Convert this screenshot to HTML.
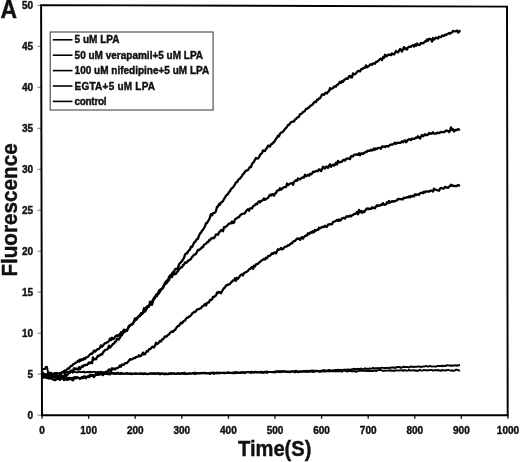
<!DOCTYPE html><html><head><meta charset="utf-8"><style>html,body{margin:0;padding:0;background:#fff;}svg{display:block;}text{font-family:"Liberation Sans",sans-serif;font-weight:bold;fill:#111;stroke:#111;stroke-width:0.4px;}svg{will-change:transform;}</style></head><body>
<svg width="520" height="462" viewBox="0 0 520 462">
<rect width="520" height="462" fill="#fff"/>
<text x="0" y="18.2" font-size="25.5" transform="translate(0.5 0) scale(0.9 1)" style="stroke-width:0.4px">A</text>
<line x1="37.6" y1="415.10" x2="41.5" y2="415.10" stroke="#777" stroke-width="1"/>
<text x="33.0" y="418.50" font-size="10" text-anchor="end">0</text>
<line x1="37.6" y1="374.13" x2="41.5" y2="374.13" stroke="#777" stroke-width="1"/>
<text x="33.0" y="377.53" font-size="10" text-anchor="end">5</text>
<line x1="37.6" y1="333.16" x2="41.5" y2="333.16" stroke="#777" stroke-width="1"/>
<text x="33.0" y="336.56" font-size="10" text-anchor="end">10</text>
<line x1="37.6" y1="292.19" x2="41.5" y2="292.19" stroke="#777" stroke-width="1"/>
<text x="33.0" y="295.59" font-size="10" text-anchor="end">15</text>
<line x1="37.6" y1="251.22" x2="41.5" y2="251.22" stroke="#777" stroke-width="1"/>
<text x="33.0" y="254.62" font-size="10" text-anchor="end">20</text>
<line x1="37.6" y1="210.25" x2="41.5" y2="210.25" stroke="#777" stroke-width="1"/>
<text x="33.0" y="213.65" font-size="10" text-anchor="end">25</text>
<line x1="37.6" y1="169.28" x2="41.5" y2="169.28" stroke="#777" stroke-width="1"/>
<text x="33.0" y="172.68" font-size="10" text-anchor="end">30</text>
<line x1="37.6" y1="128.31" x2="41.5" y2="128.31" stroke="#777" stroke-width="1"/>
<text x="33.0" y="131.71" font-size="10" text-anchor="end">35</text>
<line x1="37.6" y1="87.34" x2="41.5" y2="87.34" stroke="#777" stroke-width="1"/>
<text x="33.0" y="90.74" font-size="10" text-anchor="end">40</text>
<line x1="37.6" y1="46.37" x2="41.5" y2="46.37" stroke="#777" stroke-width="1"/>
<text x="33.0" y="49.77" font-size="10" text-anchor="end">45</text>
<line x1="37.6" y1="5.40" x2="41.5" y2="5.40" stroke="#777" stroke-width="1"/>
<text x="33.0" y="8.80" font-size="10" text-anchor="end">50</text>
<line x1="42.06" y1="415" x2="42.06" y2="418.8" stroke="#111" stroke-width="1.3"/>
<text x="42.06" y="433.8" font-size="10" text-anchor="middle">0</text>
<line x1="88.65" y1="415" x2="88.65" y2="418.8" stroke="#111" stroke-width="1.3"/>
<text x="88.65" y="433.8" font-size="10" text-anchor="middle">100</text>
<line x1="135.24" y1="415" x2="135.24" y2="418.8" stroke="#111" stroke-width="1.3"/>
<text x="135.24" y="433.8" font-size="10" text-anchor="middle">200</text>
<line x1="181.83" y1="415" x2="181.83" y2="418.8" stroke="#111" stroke-width="1.3"/>
<text x="181.83" y="433.8" font-size="10" text-anchor="middle">300</text>
<line x1="228.42" y1="415" x2="228.42" y2="418.8" stroke="#111" stroke-width="1.3"/>
<text x="228.42" y="433.8" font-size="10" text-anchor="middle">400</text>
<line x1="275.01" y1="415" x2="275.01" y2="418.8" stroke="#111" stroke-width="1.3"/>
<text x="275.01" y="433.8" font-size="10" text-anchor="middle">500</text>
<line x1="321.60" y1="415" x2="321.60" y2="418.8" stroke="#111" stroke-width="1.3"/>
<text x="321.60" y="433.8" font-size="10" text-anchor="middle">600</text>
<line x1="368.19" y1="415" x2="368.19" y2="418.8" stroke="#111" stroke-width="1.3"/>
<text x="368.19" y="433.8" font-size="10" text-anchor="middle">700</text>
<line x1="414.78" y1="415" x2="414.78" y2="418.8" stroke="#111" stroke-width="1.3"/>
<text x="414.78" y="433.8" font-size="10" text-anchor="middle">800</text>
<line x1="461.37" y1="415" x2="461.37" y2="418.8" stroke="#111" stroke-width="1.3"/>
<text x="461.37" y="433.8" font-size="10" text-anchor="middle">900</text>
<line x1="507.96" y1="415" x2="507.96" y2="418.8" stroke="#111" stroke-width="1.3"/>
<text x="507.96" y="433.8" font-size="10" text-anchor="middle">1000</text>
<text transform="translate(274.7 456.4) scale(0.96 1.08)" font-size="21" text-anchor="middle">Time(S)</text>
<text transform="translate(17.3 210) rotate(-90) scale(0.985 1.09)" x="0" y="0" font-size="21" text-anchor="middle">Fluorescence</text>
<polyline fill="none" stroke="#000" stroke-width="1.90" stroke-linejoin="round" points="42.0,375.5 43.0,375.0 44.0,375.3 45.0,375.4 46.0,376.3 47.0,375.6 48.0,377.1 49.0,376.6 50.0,377.2 51.0,377.2 52.0,377.9 53.0,377.0 54.0,377.6 55.0,377.7 56.0,378.2 57.0,377.5 58.0,377.8 59.0,377.6 60.0,377.9 61.0,378.1 62.0,377.6 63.0,378.3 64.0,378.2 65.0,378.1 66.0,378.3 67.0,377.8 68.0,378.0 69.0,377.7 70.0,377.9 71.0,378.2 72.0,377.8 73.0,377.8 74.0,377.7 75.0,377.7 76.0,377.7 77.0,377.8 78.0,377.4 79.0,377.8 80.0,378.2 81.0,377.8 82.0,377.5 83.0,377.2 84.0,377.2 85.0,377.8 86.0,377.2 87.0,376.9 88.0,376.9 89.0,377.3 90.0,376.4 91.0,376.3 92.0,376.0 93.0,375.6 94.0,375.1 95.0,375.2 96.0,375.1 97.0,375.1 98.0,375.1 99.0,374.9 100.0,374.6 101.0,374.6 102.0,374.0 103.0,374.5 104.0,374.2 105.0,373.9 106.0,374.1 107.0,373.9 108.0,374.3 109.0,374.4 110.0,374.5 111.0,373.5 112.0,373.4 113.0,373.7 114.0,373.9 115.0,374.1 116.0,373.9 117.0,373.2 118.0,373.7 119.0,374.0 120.0,373.9 121.0,374.0 122.0,373.7 123.0,373.7 124.0,373.9 125.0,373.9 126.0,373.9 127.0,373.8 128.0,373.6 129.0,373.9 130.0,373.9 131.0,374.2 132.0,374.2 133.0,373.9 134.0,373.7 135.0,373.6 136.0,374.0 137.0,373.9 138.0,373.7 139.0,373.9 140.0,373.7 141.0,374.1 142.0,373.7 143.0,374.2 144.0,374.0 145.0,374.0 146.0,373.5 147.0,373.9 148.0,374.1 149.0,373.6 150.0,373.8 151.0,373.9 152.0,373.5 153.0,374.0 154.0,374.1 155.0,373.6 156.0,374.0 157.0,373.5 158.0,373.9 159.0,373.4 160.0,374.2 161.0,374.0 162.0,373.9 163.0,373.7 164.0,374.3 165.0,374.5 166.0,373.3 167.0,374.3 168.0,374.4 169.0,374.0 170.0,373.5 171.0,374.1 172.0,373.8 173.0,373.7 174.0,373.5 175.0,374.0 176.0,374.0 177.0,373.6 178.0,373.9 179.0,373.4 180.0,374.0 181.0,373.8 182.0,373.7 183.0,373.7 184.0,374.0 185.0,373.9 186.0,373.8 187.0,373.7 188.0,373.7 189.0,373.8 190.0,373.7 191.0,373.8 192.0,373.5 193.0,372.8 194.0,373.9 195.0,374.2 196.0,373.6 197.0,373.5 198.0,373.4 199.0,373.4 200.0,373.4 201.0,373.1 202.0,373.3 203.0,373.1 204.0,373.4 205.0,373.3 206.0,373.5 207.0,373.3 208.0,373.6 209.0,373.3 210.0,373.9 211.0,372.7 212.0,373.0 213.0,373.5 214.0,374.0 215.0,373.1 216.0,373.2 217.0,373.1 218.0,373.5 219.0,373.0 220.0,373.3 221.0,373.0 222.0,372.7 223.0,373.1 224.0,373.2 225.0,373.4 226.0,373.0 227.0,372.8 228.0,373.1 229.0,373.0 230.0,373.0 231.0,372.9 232.0,373.2 233.0,373.0 234.0,373.4 235.0,373.2 236.0,373.0 237.0,372.3 238.0,373.0 239.0,372.9 240.0,373.0 241.0,373.0 242.0,372.6 243.0,372.9 244.0,372.5 245.0,373.2 246.0,372.2 247.0,372.1 248.0,372.1 249.0,372.3 250.0,372.2 251.0,373.1 252.0,372.4 253.0,372.1 254.0,372.8 255.0,372.3 256.0,372.1 257.0,372.7 258.0,372.6 259.0,372.2 260.0,372.8 261.0,372.4 262.0,372.8 263.0,372.5 264.0,372.8 265.0,372.3 266.0,371.9 267.0,373.0 268.0,372.0 269.0,372.1 270.0,372.0 271.0,372.1 272.0,372.2 273.0,372.2 274.0,372.3 275.0,372.6 276.0,372.0 277.0,371.7 278.0,371.7 279.0,371.8 280.0,371.5 281.0,372.2 282.0,371.8 283.0,371.9 284.0,371.9 285.0,371.5 286.0,371.6 287.0,372.1 288.0,372.1 289.0,371.7 290.0,372.4 291.0,371.4 292.0,371.7 293.0,371.7 294.0,370.9 295.0,372.4 296.0,371.9 297.0,371.4 298.0,372.3 299.0,371.9 300.0,371.8 301.0,371.5 302.0,371.7 303.0,371.2 304.0,371.9 305.0,371.5 306.0,371.7 307.0,372.0 308.0,371.7 309.0,371.7 310.0,371.7 311.0,371.3 312.0,371.8 313.0,372.0 314.0,371.7 315.0,371.8 316.0,371.2 317.0,371.2 318.0,371.0 319.0,371.8 320.0,371.4 321.0,371.9 322.0,371.2 323.0,371.3 324.0,371.4 325.0,371.7 326.0,371.4 327.0,371.4 328.0,371.4 329.0,371.4 330.0,371.0 331.0,371.3 332.0,371.2 333.0,371.3 334.0,371.4 335.0,371.1 336.0,371.2 337.0,371.2 338.0,371.4 339.0,371.4 340.0,370.9 341.0,371.4 342.0,371.8 343.0,370.7 344.0,370.9 345.0,370.9 346.0,371.0 347.0,371.6 348.0,371.1 349.0,370.9 350.0,371.2 351.0,370.9 352.0,371.4 353.0,371.1 354.0,371.4 355.0,370.8 356.0,371.9 357.0,371.2 358.0,371.1 359.0,370.9 360.0,370.7 361.0,370.6 362.0,370.8 363.0,370.6 364.0,370.9 365.0,370.6 366.0,371.0 367.0,371.1 368.0,370.6 369.0,371.2 370.0,370.7 371.0,371.1 372.0,370.9 373.0,371.1 374.0,370.4 375.0,370.7 376.0,371.2 377.0,370.5 378.0,370.1 379.0,370.1 380.0,369.9 381.0,370.0 382.0,370.5 383.0,371.0 384.0,370.5 385.0,370.7 386.0,370.6 387.0,370.6 388.0,370.6 389.0,370.5 390.0,370.7 391.0,370.2 392.0,370.9 393.0,370.8 394.0,370.5 395.0,370.8 396.0,370.3 397.0,370.4 398.0,370.6 399.0,370.5 400.0,370.4 401.0,370.3 402.0,370.3 403.0,370.8 404.0,369.9 405.0,370.6 406.0,370.4 407.0,370.7 408.0,370.6 409.0,369.6 410.0,370.6 411.0,370.5 412.0,370.4 413.0,370.2 414.0,370.6 415.0,370.2 416.0,370.9 417.0,370.5 418.0,371.0 419.0,370.1 420.0,369.8 421.0,370.5 422.0,370.6 423.0,370.3 424.0,369.9 425.0,370.2 426.0,370.5 427.0,370.2 428.0,370.3 429.0,370.2 430.0,370.0 431.0,370.1 432.0,369.9 433.0,370.8 434.0,370.2 435.0,370.4 436.0,370.0 437.0,370.5 438.0,369.7 439.0,370.6 440.0,370.3 441.0,370.9 442.0,369.9 443.0,370.3 444.0,370.4 445.0,370.7 446.0,370.2 447.0,370.3 448.0,369.7 449.0,370.1 450.0,370.4 451.0,370.6 452.0,370.2 453.0,370.9 454.0,370.8 455.0,370.3 456.0,369.6 457.0,369.8 458.0,370.1 459.0,370.6 460.0,370.4"/>
<polyline fill="none" stroke="#000" stroke-width="1.90" stroke-linejoin="round" points="42.0,369.4 43.0,369.4 44.0,368.7 45.0,369.1 46.0,366.7 47.0,367.0 48.0,372.2 49.0,372.5 50.0,372.7 51.0,372.8 52.0,373.3 53.0,373.9 54.0,373.2 55.0,372.9 56.0,373.3 57.0,373.0 58.0,373.1 59.0,373.3 60.0,372.7 61.0,372.8 62.0,372.4 63.0,372.5 64.0,372.5 65.0,372.0 66.0,372.1 67.0,372.1 68.0,371.9 69.0,371.7 70.0,371.6 71.0,372.0 72.0,371.9 73.0,372.7 74.0,371.3 75.0,372.0 76.0,372.1 77.0,372.4 78.0,372.2 79.0,371.7 80.0,372.0 81.0,372.2 82.0,371.9 83.0,372.2 84.0,371.4 85.0,372.5 86.0,372.4 87.0,371.9 88.0,372.2 89.0,372.0 90.0,371.8 91.0,372.0 92.0,372.3 93.0,371.9 94.0,371.9 95.0,372.0 96.0,372.1 97.0,372.4 98.0,371.9 99.0,372.2 100.0,372.2 101.0,371.6 102.0,372.1 103.0,372.3 104.0,372.4 105.0,372.5 106.0,371.9 107.0,372.6 108.0,372.5 109.0,372.3 110.0,373.0 111.0,373.1 112.0,372.8 113.0,373.3 114.0,373.0 115.0,373.2 116.0,372.9 117.0,373.7 118.0,372.5 119.0,373.3 120.0,373.5 121.0,372.7 122.0,373.3 123.0,373.3 124.0,373.6 125.0,373.7 126.0,373.2 127.0,372.9 128.0,373.8 129.0,373.7 130.0,373.2 131.0,373.5 132.0,373.5 133.0,373.6 134.0,373.5 135.0,373.8 136.0,372.9 137.0,373.7 138.0,373.6 139.0,373.4 140.0,373.8 141.0,372.8 142.0,373.8 143.0,373.6 144.0,373.1 145.0,373.6 146.0,373.4 147.0,374.3 148.0,374.0 149.0,373.6 150.0,373.3 151.0,373.3 152.0,373.4 153.0,373.3 154.0,373.2 155.0,373.3 156.0,373.4 157.0,373.3 158.0,373.3 159.0,373.2 160.0,374.3 161.0,373.1 162.0,373.2 163.0,373.6 164.0,373.4 165.0,373.6 166.0,373.7 167.0,373.9 168.0,373.7 169.0,373.2 170.0,373.8 171.0,372.9 172.0,373.4 173.0,373.3 174.0,373.1 175.0,373.6 176.0,373.4 177.0,373.7 178.0,372.9 179.0,373.6 180.0,373.5 181.0,373.4 182.0,372.9 183.0,373.2 184.0,372.8 185.0,372.7 186.0,374.3 187.0,373.6 188.0,373.8 189.0,373.1 190.0,373.4 191.0,373.4 192.0,373.4 193.0,373.2 194.0,373.1 195.0,372.5 196.0,373.3 197.0,373.2 198.0,373.4 199.0,373.0 200.0,373.6 201.0,372.9 202.0,372.6 203.0,373.3 204.0,372.8 205.0,372.6 206.0,373.0 207.0,373.1 208.0,373.0 209.0,373.0 210.0,374.1 211.0,373.1 212.0,373.3 213.0,372.2 214.0,372.9 215.0,373.0 216.0,372.7 217.0,372.5 218.0,372.9 219.0,372.6 220.0,372.5 221.0,373.0 222.0,373.1 223.0,372.7 224.0,372.5 225.0,372.8 226.0,372.9 227.0,372.8 228.0,372.1 229.0,372.5 230.0,372.6 231.0,372.7 232.0,372.8 233.0,372.7 234.0,372.1 235.0,372.2 236.0,372.1 237.0,372.9 238.0,372.4 239.0,372.5 240.0,372.7 241.0,372.2 242.0,372.0 243.0,372.2 244.0,372.2 245.0,372.7 246.0,372.5 247.0,371.9 248.0,372.4 249.0,372.4 250.0,371.8 251.0,372.1 252.0,371.6 253.0,372.2 254.0,372.0 255.0,371.7 256.0,371.8 257.0,372.1 258.0,371.8 259.0,372.1 260.0,372.1 261.0,371.7 262.0,371.8 263.0,372.5 264.0,371.9 265.0,371.6 266.0,371.9 267.0,371.4 268.0,372.1 269.0,371.9 270.0,372.1 271.0,372.0 272.0,371.9 273.0,372.0 274.0,371.8 275.0,371.5 276.0,371.4 277.0,371.5 278.0,370.9 279.0,372.2 280.0,371.1 281.0,371.6 282.0,371.2 283.0,370.9 284.0,371.5 285.0,371.4 286.0,371.5 287.0,371.7 288.0,371.3 289.0,371.6 290.0,371.6 291.0,371.3 292.0,371.3 293.0,371.6 294.0,371.4 295.0,371.4 296.0,370.7 297.0,371.4 298.0,371.5 299.0,371.3 300.0,371.4 301.0,371.9 302.0,371.3 303.0,371.4 304.0,371.0 305.0,370.9 306.0,371.0 307.0,370.8 308.0,371.1 309.0,370.8 310.0,371.0 311.0,370.6 312.0,370.5 313.0,370.8 314.0,370.6 315.0,370.7 316.0,370.7 317.0,370.7 318.0,371.1 319.0,371.2 320.0,371.0 321.0,370.6 322.0,371.1 323.0,370.2 324.0,370.0 325.0,370.7 326.0,370.5 327.0,370.5 328.0,370.5 329.0,369.9 330.0,370.0 331.0,370.7 332.0,370.6 333.0,370.1 334.0,370.8 335.0,369.9 336.0,370.0 337.0,370.2 338.0,369.7 339.0,369.9 340.0,369.9 341.0,369.8 342.0,370.2 343.0,370.0 344.0,369.5 345.0,369.6 346.0,369.8 347.0,369.7 348.0,369.4 349.0,369.7 350.0,369.8 351.0,369.3 352.0,369.7 353.0,368.9 354.0,368.8 355.0,369.4 356.0,369.0 357.0,368.9 358.0,369.0 359.0,368.8 360.0,369.1 361.0,368.5 362.0,368.8 363.0,369.8 364.0,368.8 365.0,368.2 366.0,368.9 367.0,368.8 368.0,369.0 369.0,368.6 370.0,368.3 371.0,368.9 372.0,368.6 373.0,367.8 374.0,368.5 375.0,368.2 376.0,368.5 377.0,368.0 378.0,368.3 379.0,368.1 380.0,368.2 381.0,367.9 382.0,367.8 383.0,367.9 384.0,368.0 385.0,367.9 386.0,368.2 387.0,367.8 388.0,367.9 389.0,368.3 390.0,367.6 391.0,367.7 392.0,367.3 393.0,367.5 394.0,367.9 395.0,367.5 396.0,367.8 397.0,367.0 398.0,366.9 399.0,367.3 400.0,366.8 401.0,368.0 402.0,367.5 403.0,366.7 404.0,367.0 405.0,366.8 406.0,367.1 407.0,366.9 408.0,367.2 409.0,367.3 410.0,366.8 411.0,366.5 412.0,366.9 413.0,366.7 414.0,367.1 415.0,366.6 416.0,366.9 417.0,366.7 418.0,366.5 419.0,366.4 420.0,366.7 421.0,367.2 422.0,366.7 423.0,366.4 424.0,366.6 425.0,366.4 426.0,365.9 427.0,366.4 428.0,366.7 429.0,366.1 430.0,365.9 431.0,366.3 432.0,366.7 433.0,366.4 434.0,366.4 435.0,366.7 436.0,366.5 437.0,366.2 438.0,365.9 439.0,366.0 440.0,365.9 441.0,366.1 442.0,365.6 443.0,366.3 444.0,365.8 445.0,365.6 446.0,366.0 447.0,365.1 448.0,365.4 449.0,365.4 450.0,365.9 451.0,365.4 452.0,366.0 453.0,365.4 454.0,365.6 455.0,365.2 456.0,365.8 457.0,365.3 458.0,365.5 459.0,365.2 460.0,365.0"/>
<polyline fill="none" stroke="#000" stroke-width="2.30" stroke-linejoin="round" points="42.0,378.1 43.0,377.5 44.0,377.5 45.0,376.5 46.0,377.7 47.0,377.9 48.0,378.3 49.0,378.2 50.0,378.7 51.0,378.6 52.0,378.3 53.0,379.7 54.0,379.8 55.0,380.3 56.0,379.3 57.0,379.1 58.0,379.0 59.0,376.7 60.0,379.9 61.0,378.6 62.0,378.6 63.0,377.6 64.0,380.2 65.0,379.4 66.0,378.7 67.0,379.9 68.0,379.7 69.0,379.2 70.0,378.8 71.0,379.1 72.0,379.7 73.0,380.4 74.0,378.4 75.0,377.0 76.0,378.4 77.0,377.3 78.0,378.1 79.0,377.9 80.0,379.0 81.0,378.1 82.0,377.0 83.0,378.2 84.0,376.3 85.0,376.5 86.0,378.2 87.0,376.7 88.0,376.2 89.0,376.5 90.0,374.8 91.0,375.6 92.0,374.9 93.0,375.7 94.0,377.0 95.0,375.3 96.0,373.5 97.0,373.5 98.0,374.5 99.0,372.7 100.0,373.3 101.0,372.3 102.0,373.8 103.0,375.1 104.0,372.5 105.0,373.4 106.0,371.6 107.0,373.1 108.0,370.8 109.0,369.3 110.0,369.7 111.0,371.3 112.0,368.3 113.0,369.3 114.0,368.5 115.0,369.4 116.0,368.4 117.0,368.2 118.0,367.7 119.0,367.0 120.0,365.5 121.0,366.7 122.0,364.5 123.0,364.9 124.0,364.6 125.0,363.1 126.0,363.1 127.0,363.1 128.0,361.8 129.0,360.7 130.0,359.1 131.0,359.6 132.0,359.2 133.0,358.7 134.0,357.9 135.0,358.2 136.0,357.1 137.0,356.8 138.0,356.7 139.0,355.2 140.0,356.3 141.0,355.9 142.0,354.5 143.0,352.6 144.0,354.3 145.0,354.1 146.0,352.2 147.0,350.9 148.0,351.4 149.0,349.1 150.0,349.2 151.0,348.3 152.0,347.1 153.0,346.6 154.0,347.5 155.0,345.7 156.0,342.8 157.0,344.1 158.0,343.5 159.0,342.5 160.0,341.0 161.0,341.5 162.0,339.5 163.0,339.4 164.0,337.8 165.0,336.4 166.0,336.8 167.0,336.0 168.0,334.9 169.0,334.3 170.0,332.9 171.0,332.0 172.0,331.5 173.0,331.9 174.0,330.3 175.0,330.1 176.0,328.4 177.0,326.9 178.0,326.0 179.0,325.9 180.0,324.2 181.0,322.6 182.0,323.4 183.0,321.8 184.0,320.9 185.0,320.7 186.0,318.7 187.0,317.7 188.0,317.7 189.0,316.5 190.0,316.3 191.0,315.3 192.0,313.7 193.0,312.9 194.0,312.0 195.0,312.0 196.0,311.2 197.0,309.3 198.0,309.4 199.0,309.1 200.0,308.4 201.0,308.3 202.0,306.5 203.0,306.3 204.0,305.3 205.0,303.9 206.0,305.5 207.0,303.0 208.0,302.6 209.0,302.3 210.0,300.0 211.0,300.0 212.0,299.5 213.0,296.8 214.0,297.0 215.0,296.1 216.0,295.5 217.0,292.5 218.0,293.1 219.0,291.8 220.0,292.6 221.0,293.2 222.0,291.2 223.0,289.7 224.0,288.1 225.0,287.5 226.0,285.5 227.0,285.3 228.0,284.5 229.0,284.5 230.0,283.9 231.0,282.4 232.0,281.7 233.0,280.3 234.0,280.4 235.0,278.3 236.0,280.7 237.0,277.8 238.0,278.7 239.0,277.4 240.0,275.9 241.0,274.9 242.0,274.3 243.0,275.4 244.0,273.0 245.0,272.6 246.0,272.1 247.0,271.7 248.0,270.9 249.0,269.4 250.0,269.0 251.0,267.9 252.0,267.0 253.0,268.8 254.0,265.7 255.0,266.5 256.0,264.4 257.0,264.0 258.0,263.9 259.0,262.5 260.0,262.1 261.0,261.0 262.0,260.2 263.0,259.8 264.0,258.8 265.0,259.5 266.0,257.8 267.0,258.3 268.0,256.2 269.0,256.0 270.0,255.7 271.0,254.6 272.0,253.3 273.0,253.9 274.0,252.7 275.0,252.5 276.0,253.3 277.0,251.2 278.0,249.2 279.0,249.6 280.0,249.4 281.0,247.9 282.0,249.4 283.0,249.0 284.0,247.6 285.0,246.8 286.0,246.5 287.0,246.4 288.0,245.1 289.0,245.4 290.0,244.2 291.0,243.2 292.0,243.5 293.0,241.7 294.0,241.1 295.0,241.1 296.0,239.8 297.0,238.7 298.0,238.9 299.0,238.4 300.0,239.8 301.0,238.1 302.0,237.1 303.0,238.6 304.0,237.0 305.0,236.1 306.0,235.3 307.0,235.6 308.0,233.2 309.0,234.1 310.0,233.2 311.0,231.9 312.0,232.8 313.0,231.2 314.0,232.2 315.0,229.9 316.0,230.7 317.0,229.8 318.0,229.9 319.0,227.7 320.0,228.5 321.0,227.6 322.0,226.8 323.0,227.0 324.0,227.0 325.0,225.7 326.0,226.8 327.0,226.7 328.0,224.7 329.0,224.4 330.0,224.2 331.0,224.3 332.0,224.3 333.0,222.0 334.0,221.9 335.0,221.2 336.0,220.8 337.0,220.0 338.0,220.8 339.0,219.5 340.0,220.7 341.0,219.9 342.0,218.4 343.0,218.0 344.0,217.8 345.0,218.6 346.0,216.9 347.0,216.1 348.0,216.6 349.0,216.5 350.0,215.5 351.0,216.5 352.0,215.3 353.0,215.0 354.0,213.9 355.0,214.0 356.0,213.6 357.0,211.9 358.0,214.3 359.0,209.9 360.0,212.2 361.0,211.0 362.0,212.7 363.0,211.3 364.0,212.3 365.0,211.0 366.0,209.3 367.0,208.4 368.0,209.2 369.0,208.5 370.0,208.8 371.0,208.8 372.0,207.3 373.0,208.1 374.0,207.6 375.0,208.2 376.0,206.4 377.0,205.2 378.0,206.0 379.0,205.5 380.0,205.7 381.0,204.6 382.0,204.8 383.0,203.1 384.0,204.6 385.0,204.8 386.0,204.3 387.0,202.3 388.0,203.1 389.0,201.0 390.0,202.5 391.0,201.9 392.0,201.1 393.0,201.6 394.0,201.2 395.0,201.4 396.0,200.6 397.0,200.4 398.0,198.8 399.0,199.0 400.0,199.1 401.0,199.3 402.0,198.8 403.0,199.4 404.0,197.7 405.0,197.8 406.0,197.8 407.0,197.2 408.0,197.4 409.0,196.4 410.0,197.4 411.0,196.0 412.0,196.6 413.0,195.7 414.0,196.3 415.0,194.3 416.0,195.2 417.0,194.4 418.0,194.5 419.0,194.8 420.0,193.2 421.0,192.8 422.0,192.7 423.0,193.2 424.0,191.6 425.0,192.5 426.0,191.4 427.0,191.3 428.0,191.5 429.0,191.7 430.0,190.8 431.0,190.6 432.0,190.7 433.0,191.6 434.0,188.6 435.0,189.7 436.0,189.7 437.0,190.1 438.0,190.4 439.0,190.8 440.0,188.7 441.0,187.9 442.0,188.3 443.0,188.4 444.0,188.5 445.0,186.9 446.0,187.4 447.0,187.5 448.0,187.9 449.0,186.7 450.0,186.1 451.0,184.7 452.0,185.8 453.0,185.5 454.0,186.2 455.0,186.2 456.0,185.9 457.0,186.1 458.0,185.0 459.0,185.5 460.0,185.0"/>
<polyline fill="none" stroke="#000" stroke-width="2.30" stroke-linejoin="round" points="42.0,376.0 43.0,376.3 44.0,375.5 45.0,376.5 46.0,375.9 47.0,376.3 48.0,375.8 49.0,376.6 50.0,375.6 51.0,374.6 52.0,376.8 53.0,375.2 54.0,376.9 55.0,376.9 56.0,376.0 57.0,378.3 58.0,376.4 59.0,377.7 60.0,375.5 61.0,376.6 62.0,375.9 63.0,376.3 64.0,377.5 65.0,373.5 66.0,376.2 67.0,374.4 68.0,374.5 69.0,372.1 70.0,372.9 71.0,370.5 72.0,371.3 73.0,370.7 74.0,368.3 75.0,369.4 76.0,368.4 77.0,369.2 78.0,369.6 79.0,367.1 80.0,369.2 81.0,367.7 82.0,366.1 83.0,366.7 84.0,365.1 85.0,365.4 86.0,364.9 87.0,364.9 88.0,363.7 89.0,362.5 90.0,363.3 91.0,362.3 92.0,363.3 93.0,357.4 94.0,359.6 95.0,358.8 96.0,359.3 97.0,357.4 98.0,355.6 99.0,356.0 100.0,355.1 101.0,354.1 102.0,354.6 103.0,352.4 104.0,351.4 105.0,350.0 106.0,349.7 107.0,349.5 108.0,348.6 109.0,345.7 110.0,347.6 111.0,346.5 112.0,345.2 113.0,343.8 114.0,343.6 115.0,341.9 116.0,341.5 117.0,338.6 118.0,339.5 119.0,339.3 120.0,337.4 121.0,335.5 122.0,334.0 123.0,333.3 124.0,329.7 125.0,331.1 126.0,329.9 127.0,330.9 128.0,328.4 129.0,326.9 130.0,325.6 131.0,324.3 132.0,324.4 133.0,323.1 134.0,321.8 135.0,320.3 136.0,320.0 137.0,318.8 138.0,317.2 139.0,316.5 140.0,316.1 141.0,313.1 142.0,314.2 143.0,313.1 144.0,310.5 145.0,311.7 146.0,310.3 147.0,308.1 148.0,307.0 149.0,305.6 150.0,304.6 151.0,303.2 152.0,304.8 153.0,301.1 154.0,297.6 155.0,297.9 156.0,296.0 157.0,296.0 158.0,293.3 159.0,290.7 160.0,291.7 161.0,289.8 162.0,288.7 163.0,288.2 164.0,285.6 165.0,283.8 166.0,283.7 167.0,282.4 168.0,281.3 169.0,280.3 170.0,277.0 171.0,274.6 172.0,277.1 173.0,273.7 174.0,274.0 175.0,274.3 176.0,273.7 177.0,272.1 178.0,271.2 179.0,269.2 180.0,268.5 181.0,267.2 182.0,267.4 183.0,265.1 184.0,264.6 185.0,262.4 186.0,262.8 187.0,262.4 188.0,260.8 189.0,260.2 190.0,259.7 191.0,258.8 192.0,257.0 193.0,256.1 194.0,254.7 195.0,254.6 196.0,254.0 197.0,251.8 198.0,249.9 199.0,250.0 200.0,249.2 201.0,248.5 202.0,247.2 203.0,247.1 204.0,244.7 205.0,244.3 206.0,243.7 207.0,242.3 208.0,242.2 209.0,240.2 210.0,240.3 211.0,238.5 212.0,238.4 213.0,237.9 214.0,238.1 215.0,236.6 216.0,234.4 217.0,234.3 218.0,234.7 219.0,232.4 220.0,231.6 221.0,230.1 222.0,230.2 223.0,231.3 224.0,227.2 225.0,227.4 226.0,226.5 227.0,225.8 228.0,224.8 229.0,223.6 230.0,223.4 231.0,223.4 232.0,221.5 233.0,223.0 234.0,222.6 235.0,219.5 236.0,218.7 237.0,218.2 238.0,217.2 239.0,217.2 240.0,215.6 241.0,214.5 242.0,214.1 243.0,213.7 244.0,213.7 245.0,213.2 246.0,211.3 247.0,209.9 248.0,209.3 249.0,210.7 250.0,208.4 251.0,208.3 252.0,208.4 253.0,206.2 254.0,205.8 255.0,204.9 256.0,203.9 257.0,204.3 258.0,202.3 259.0,201.3 260.0,202.4 261.0,201.0 262.0,200.6 263.0,200.0 264.0,198.5 265.0,199.8 266.0,198.9 267.0,198.5 268.0,198.0 269.0,196.1 270.0,194.7 271.0,195.5 272.0,194.1 273.0,194.6 274.0,195.7 275.0,193.4 276.0,193.2 277.0,190.7 278.0,190.3 279.0,190.1 280.0,188.2 281.0,189.7 282.0,188.8 283.0,187.8 284.0,187.1 285.0,187.1 286.0,187.0 287.0,183.5 288.0,185.2 289.0,184.4 290.0,183.6 291.0,183.3 292.0,183.0 293.0,184.8 294.0,181.9 295.0,181.1 296.0,180.1 297.0,180.8 298.0,178.5 299.0,179.3 300.0,179.3 301.0,178.4 302.0,177.7 303.0,177.3 304.0,177.5 305.0,174.7 306.0,176.1 307.0,175.7 308.0,174.8 309.0,175.7 310.0,173.9 311.0,174.3 312.0,173.5 313.0,171.7 314.0,172.2 315.0,171.4 316.0,171.3 317.0,170.7 318.0,171.1 319.0,169.4 320.0,169.7 321.0,171.1 322.0,169.3 323.0,166.8 324.0,167.2 325.0,168.5 326.0,166.7 327.0,166.7 328.0,167.9 329.0,165.7 330.0,164.3 331.0,166.8 332.0,165.4 333.0,164.6 334.0,165.6 335.0,164.7 336.0,162.8 337.0,164.5 338.0,160.9 339.0,162.4 340.0,162.2 341.0,162.0 342.0,161.5 343.0,160.1 344.0,159.8 345.0,160.5 346.0,159.2 347.0,158.5 348.0,158.7 349.0,158.3 350.0,159.0 351.0,156.4 352.0,156.1 353.0,156.4 354.0,154.8 355.0,154.6 356.0,154.7 357.0,154.5 358.0,154.9 359.0,153.3 360.0,155.2 361.0,153.4 362.0,153.4 363.0,154.0 364.0,152.8 365.0,152.5 366.0,151.7 367.0,151.8 368.0,150.6 369.0,150.9 370.0,150.6 371.0,149.7 372.0,150.6 373.0,150.0 374.0,148.4 375.0,149.7 376.0,148.4 377.0,149.0 378.0,147.9 379.0,147.9 380.0,148.1 381.0,148.7 382.0,146.4 383.0,146.8 384.0,146.5 385.0,147.1 386.0,146.1 387.0,146.2 388.0,146.5 389.0,145.9 390.0,144.9 391.0,144.6 392.0,144.5 393.0,144.5 394.0,143.6 395.0,142.6 396.0,143.9 397.0,143.0 398.0,142.7 399.0,142.9 400.0,142.9 401.0,142.5 402.0,141.2 403.0,142.3 404.0,141.2 405.0,140.3 406.0,142.2 407.0,141.3 408.0,139.7 409.0,139.2 410.0,139.3 411.0,140.1 412.0,138.5 413.0,138.9 414.0,138.9 415.0,138.4 416.0,137.5 417.0,137.8 418.0,136.3 419.0,137.3 420.0,138.5 421.0,136.4 422.0,135.0 423.0,136.2 424.0,135.5 425.0,134.1 426.0,135.1 427.0,135.1 428.0,134.6 429.0,133.0 430.0,133.8 431.0,133.5 432.0,133.7 433.0,132.3 434.0,133.7 435.0,133.6 436.0,133.5 437.0,132.9 438.0,132.7 439.0,133.1 440.0,132.6 441.0,131.9 442.0,132.1 443.0,132.1 444.0,132.2 445.0,131.6 446.0,130.6 447.0,130.6 448.0,130.8 449.0,132.1 450.0,131.0 451.0,127.4 452.0,129.7 453.0,129.3 454.0,131.5 455.0,130.2 456.0,129.9 457.0,130.0 458.0,129.1 459.0,129.7 460.0,129.3"/>
<polyline fill="none" stroke="#000" stroke-width="2.30" stroke-linejoin="round" points="42.0,372.6 43.0,372.7 44.0,375.6 45.0,374.1 46.0,374.4 47.0,375.4 48.0,373.0 49.0,374.2 50.0,374.7 51.0,374.4 52.0,374.0 53.0,374.6 54.0,374.5 55.0,375.1 56.0,373.8 57.0,374.4 58.0,376.5 59.0,377.5 60.0,373.6 61.0,374.6 62.0,372.2 63.0,372.2 64.0,371.0 65.0,370.4 66.0,370.4 67.0,369.5 68.0,368.3 69.0,368.5 70.0,366.8 71.0,366.0 72.0,365.8 73.0,364.3 74.0,364.0 75.0,363.2 76.0,362.6 77.0,362.2 78.0,360.6 79.0,361.7 80.0,359.4 81.0,360.7 82.0,359.1 83.0,359.8 84.0,358.3 85.0,359.0 86.0,357.3 87.0,357.4 88.0,356.7 89.0,355.6 90.0,354.4 91.0,353.7 92.0,353.8 93.0,352.3 94.0,350.6 95.0,351.6 96.0,350.6 97.0,349.6 98.0,349.1 99.0,348.9 100.0,347.3 101.0,345.4 102.0,346.9 103.0,345.6 104.0,344.2 105.0,343.1 106.0,343.2 107.0,342.2 108.0,342.2 109.0,340.8 110.0,338.6 111.0,340.0 112.0,337.8 113.0,339.2 114.0,338.8 115.0,336.9 116.0,335.9 117.0,335.2 118.0,336.1 119.0,334.9 120.0,334.1 121.0,332.2 122.0,335.3 123.0,331.0 124.0,332.2 125.0,331.5 126.0,330.8 127.0,329.9 128.0,327.9 129.0,325.7 130.0,325.8 131.0,324.7 132.0,324.5 133.0,323.7 134.0,321.1 135.0,318.4 136.0,318.6 137.0,318.4 138.0,316.7 139.0,315.7 140.0,315.4 141.0,314.4 142.0,313.6 143.0,312.2 144.0,308.2 145.0,310.2 146.0,307.5 147.0,306.7 148.0,305.9 149.0,306.7 150.0,301.6 151.0,303.2 152.0,301.5 153.0,299.9 154.0,299.4 155.0,297.4 156.0,294.8 157.0,294.2 158.0,293.8 159.0,293.5 160.0,289.9 161.0,289.4 162.0,288.9 163.0,287.0 164.0,285.0 165.0,282.9 166.0,281.3 167.0,280.5 168.0,280.4 169.0,276.8 170.0,275.7 171.0,275.5 172.0,273.7 173.0,272.0 174.0,272.3 175.0,269.2 176.0,268.8 177.0,269.1 178.0,267.7 179.0,264.5 180.0,263.1 181.0,262.2 182.0,261.0 183.0,259.5 184.0,257.9 185.0,254.6 186.0,253.5 187.0,253.6 188.0,251.6 189.0,250.3 190.0,249.5 191.0,246.7 192.0,247.0 193.0,245.0 194.0,242.6 195.0,242.0 196.0,240.5 197.0,239.1 198.0,238.6 199.0,235.7 200.0,233.5 201.0,232.7 202.0,230.7 203.0,229.8 204.0,228.0 205.0,226.4 206.0,223.1 207.0,223.2 208.0,221.0 209.0,220.0 210.0,217.1 211.0,214.1 212.0,215.4 213.0,213.2 214.0,213.0 215.0,212.7 216.0,211.1 217.0,206.8 218.0,206.6 219.0,203.9 220.0,204.8 221.0,202.3 222.0,202.1 223.0,200.9 224.0,198.9 225.0,197.6 226.0,195.7 227.0,194.9 228.0,193.9 229.0,191.9 230.0,191.2 231.0,189.1 232.0,188.2 233.0,187.4 234.0,185.9 235.0,184.3 236.0,182.3 237.0,182.2 238.0,180.4 239.0,179.0 240.0,178.5 241.0,177.2 242.0,176.1 243.0,174.1 244.0,173.4 245.0,171.7 246.0,170.6 247.0,170.6 248.0,170.0 249.0,168.4 250.0,166.8 251.0,167.1 252.0,164.0 253.0,162.6 254.0,161.8 255.0,159.6 256.0,157.9 257.0,158.5 258.0,158.3 259.0,157.4 260.0,155.0 261.0,153.7 262.0,153.2 263.0,150.4 264.0,151.0 265.0,150.9 266.0,148.8 267.0,148.0 268.0,145.7 269.0,145.9 270.0,146.6 271.0,144.3 272.0,144.0 273.0,142.6 274.0,142.3 275.0,140.4 276.0,138.8 277.0,137.7 278.0,135.7 279.0,136.3 280.0,133.8 281.0,132.8 282.0,132.3 283.0,131.5 284.0,130.4 285.0,128.8 286.0,128.0 287.0,126.8 288.0,125.0 289.0,124.8 290.0,123.5 291.0,122.2 292.0,121.8 293.0,121.5 294.0,121.5 295.0,119.6 296.0,119.0 297.0,117.8 298.0,117.3 299.0,116.5 300.0,114.2 301.0,113.9 302.0,113.5 303.0,111.9 304.0,111.6 305.0,110.8 306.0,109.0 307.0,108.8 308.0,108.0 309.0,107.5 310.0,106.0 311.0,105.5 312.0,104.9 313.0,104.1 314.0,102.2 315.0,101.8 316.0,102.1 317.0,99.6 318.0,99.8 319.0,98.3 320.0,98.3 321.0,96.5 322.0,94.6 323.0,94.3 324.0,94.8 325.0,93.3 326.0,92.6 327.0,93.5 328.0,91.7 329.0,91.3 330.0,88.1 331.0,89.0 332.0,88.6 333.0,88.0 334.0,86.8 335.0,86.2 336.0,86.6 337.0,84.8 338.0,84.7 339.0,83.2 340.0,81.7 341.0,82.9 342.0,81.2 343.0,81.9 344.0,80.1 345.0,79.5 346.0,78.4 347.0,78.9 348.0,78.6 349.0,76.3 350.0,75.9 351.0,77.4 352.0,77.4 353.0,73.4 354.0,74.4 355.0,74.1 356.0,73.3 357.0,72.0 358.0,71.0 359.0,71.0 360.0,71.4 361.0,69.4 362.0,69.1 363.0,68.4 364.0,67.9 365.0,67.7 366.0,65.4 367.0,67.2 368.0,66.6 369.0,65.9 370.0,64.6 371.0,64.2 372.0,64.8 373.0,63.5 374.0,63.7 375.0,63.7 376.0,61.8 377.0,61.9 378.0,60.9 379.0,60.3 380.0,59.1 381.0,58.6 382.0,60.1 383.0,57.3 384.0,57.7 385.0,54.6 386.0,56.4 387.0,56.1 388.0,54.7 389.0,54.9 390.0,54.7 391.0,55.1 392.0,53.4 393.0,54.1 394.0,54.5 395.0,52.8 396.0,51.0 397.0,52.1 398.0,52.5 399.0,50.9 400.0,48.9 401.0,49.8 402.0,51.6 403.0,49.2 404.0,47.1 405.0,49.1 406.0,48.2 407.0,49.5 408.0,47.4 409.0,46.8 410.0,46.6 411.0,46.8 412.0,45.8 413.0,45.2 414.0,46.6 415.0,44.5 416.0,45.9 417.0,43.4 418.0,44.6 419.0,45.1 420.0,44.6 421.0,42.8 422.0,43.1 423.0,43.4 424.0,42.6 425.0,41.3 426.0,41.5 427.0,39.4 428.0,40.8 429.0,38.8 430.0,39.0 431.0,39.5 432.0,41.6 433.0,38.0 434.0,39.6 435.0,38.6 436.0,37.6 437.0,37.9 438.0,38.6 439.0,36.8 440.0,37.2 441.0,37.1 442.0,35.5 443.0,36.1 444.0,35.7 445.0,34.7 446.0,35.1 447.0,34.2 448.0,33.7 449.0,33.0 450.0,33.7 451.0,32.9 452.0,32.5 453.0,30.9 454.0,31.3 455.0,31.3 456.0,31.0 457.0,30.6 458.0,32.6 459.0,32.0 460.0,30.1"/>
<path d="M41.1 5.1 L507.0 6.6 L507.7 415.2 L42.0 415.2 Z" fill="none" stroke="#000" stroke-width="1.95" stroke-linejoin="miter"/>
<rect x="50.2" y="32.0" width="162.9" height="78.0" fill="#fff" stroke="#444" stroke-width="1.1"/>
<line x1="52.8" y1="39.80" x2="72.5" y2="39.80" stroke="#000" stroke-width="1.6"/>
<text x="74.6" y="43.30" font-size="10">5 uM LPA</text>
<line x1="52.8" y1="55.20" x2="72.5" y2="55.20" stroke="#000" stroke-width="1.6"/>
<text x="74.6" y="58.70" font-size="10">50 uM verapamil+5 uM LPA</text>
<line x1="52.8" y1="70.60" x2="72.5" y2="70.60" stroke="#000" stroke-width="1.6"/>
<text x="74.6" y="74.10" font-size="10">100 uM nifedipine+5 uM LPA</text>
<line x1="52.8" y1="86.00" x2="72.5" y2="86.00" stroke="#000" stroke-width="1.6"/>
<text x="74.6" y="89.50" font-size="10" textLength="80.5" lengthAdjust="spacing">EGTA+5 uM LPA</text>
<line x1="52.8" y1="101.40" x2="72.5" y2="101.40" stroke="#000" stroke-width="1.6"/>
<text x="74.6" y="104.90" font-size="10" textLength="31.9" lengthAdjust="spacing">control</text>
</svg></body></html>
